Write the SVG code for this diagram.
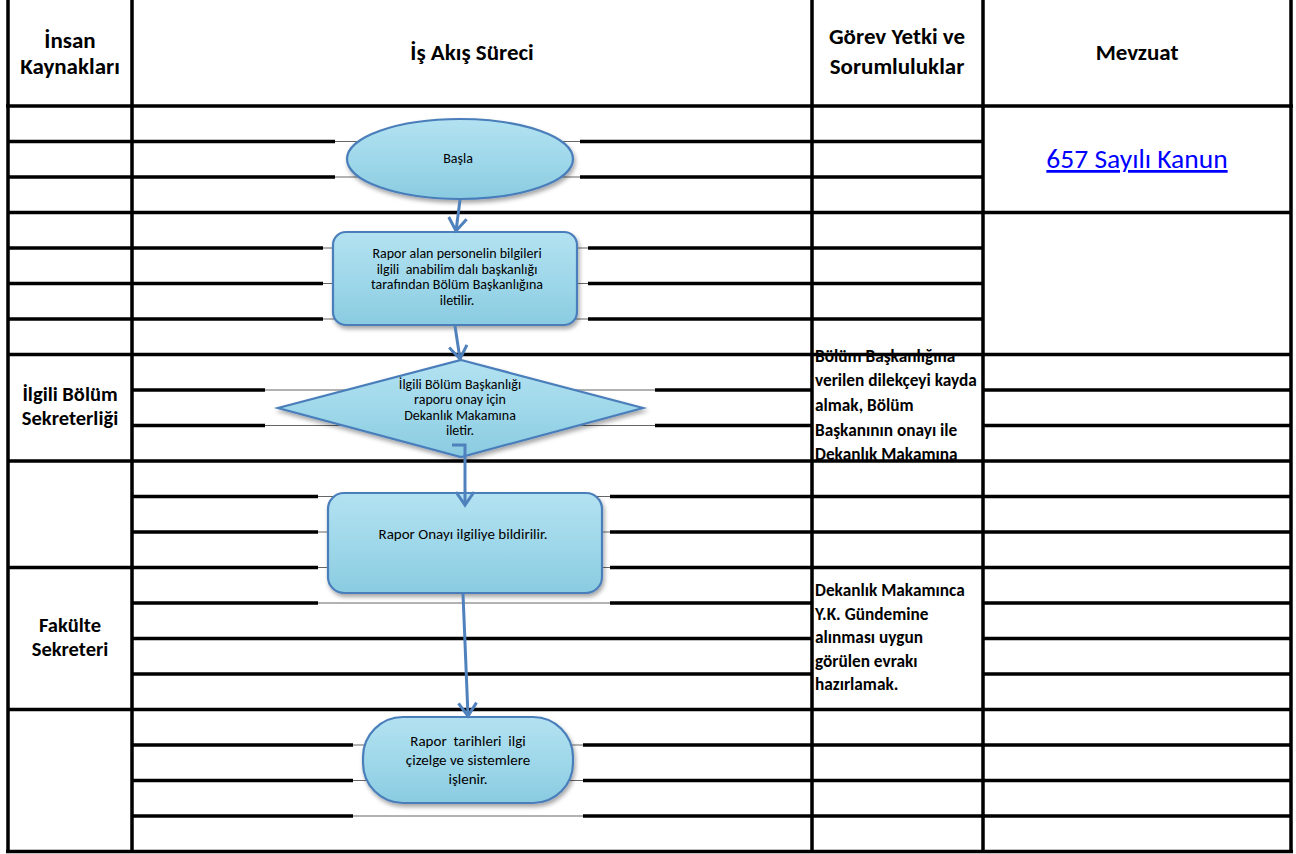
<svg xmlns="http://www.w3.org/2000/svg" width="1296" height="854" viewBox="0 0 1296 854">
<style>
.bg{fill:#ffffff}
.grid{stroke:#000;stroke-width:3.5;fill:none}
.thin{stroke:#666;stroke-width:1.2;fill:none}
.mask{fill:#fff}
.hdr{font-family:Carlito,Lato,"Liberation Sans",sans-serif;font-weight:bold;font-size:23px;fill:#000;text-anchor:middle}
.lane{font-family:Carlito,Lato,"Liberation Sans",sans-serif;font-weight:bold;font-size:20.5px;fill:#000;text-anchor:middle}
.duty{font-family:Carlito,Lato,"Liberation Sans",sans-serif;font-weight:bold;font-size:17.3px;fill:#000}
.nt{font-family:Carlito,Lato,"Liberation Sans",sans-serif;font-size:15px;fill:#000;text-anchor:middle;white-space:pre}
.ns{font-size:14px}
.law{font-family:Carlito,Lato,"Liberation Sans",sans-serif;font-size:27.5px;fill:#0000ff;text-anchor:middle;text-decoration:underline}
.shape{fill:url(#nodeFill);stroke:#4a7ebb;stroke-width:2.2;filter:url(#shadow)}
.conn{stroke:#4f81bd;stroke-width:3;fill:none;marker-end:url(#arrow)}
</style>
<defs>
<linearGradient id="nodeFill" x1="0" y1="0" x2="0" y2="1">
<stop offset="0" stop-color="#b3e2f1"/>
<stop offset="0.5" stop-color="#9fd8ea"/>
<stop offset="1" stop-color="#8acbe1"/>
</linearGradient>
<filter id="shadow" x="-10%" y="-10%" width="125%" height="135%">
<feDropShadow dx="1.5" dy="3" stdDeviation="2" flood-color="#000" flood-opacity="0.35"/>
</filter>
<marker id="arrow" markerUnits="userSpaceOnUse" markerWidth="18" markerHeight="22" viewBox="0 0 18 22" refX="15" refY="11" orient="auto">
<path d="M2,2 L15,11 L2,20" stroke="#4f81bd" stroke-width="3" fill="none" stroke-linejoin="miter"/>
</marker>
</defs>
<rect class="bg" x="0" y="0" width="1296" height="854"/>

<g id="duty-texts">
<text class="duty" x="815" y="361.5">Bölüm Başkanlığına</text>
<text class="duty" x="815" y="386">verilen dilekçeyi kayda</text>
<text class="duty" x="815" y="411">almak, Bölüm</text>
<text class="duty" x="815" y="436">Başkanının onayı ile</text>
<text class="duty" x="815" y="460">Dekanlık Makamına</text>
<text class="duty" x="815" y="596">Dekanlık Makamınca</text>
<text class="duty" x="815" y="619.5">Y.K. Gündemine</text>
<text class="duty" x="815" y="643">alınması uygun</text>
<text class="duty" x="815" y="666.5">görülen evrakı</text>
<text class="duty" x="815" y="690">hazırlamak.</text>
</g>

<g id="grid">
<path class="grid" d="M8,0V853 M132,0V853 M812,0V853 M983,0V853 M1291,0V853"/>
<path class="grid" d="M6,106H1293 M6,851.5H1293"/>
<path class="grid" d="M8,141.5H132 M8,177H132 M8,212.5H132 M8,248H132 M8,283.5H132 M8,319H132 M8,354.5H132 M8,461H132 M8,567.5H132 M8,709.5H132"/>
<path class="grid" d="M132,141.5H812 M132,177H812 M132,212.5H812 M132,248H812 M132,283.5H812 M132,319H812 M132,354.5H812 M132,390H812 M132,425.5H812 M132,461H812 M132,496.5H812 M132,532H812 M132,567.5H812 M132,603H812 M132,638.5H812 M132,674H812 M132,709.5H812 M132,745H812 M132,780.5H812 M132,816H812"/>
<path class="grid" d="M812,141.5H983 M812,177H983 M812,212.5H983 M812,248H983 M812,283.5H983 M812,319H983 M812,354.5H983 M812,461H983 M812,496.5H983 M812,532H983 M812,567.5H983 M812,709.5H983 M812,745H983 M812,780.5H983 M812,816H983"/>
<path class="grid" d="M983,212.5H1291 M983,354.5H1291 M983,390H1291 M983,425.5H1291 M983,461H1291 M983,496.5H1291 M983,532H1291 M983,567.5H1291 M983,603H1291 M983,638.5H1291 M983,674H1291 M983,709.5H1291 M983,745H1291 M983,780.5H1291 M983,816H1291"/>
</g>

<g id="headers">
<text class="hdr" x="70" y="48">İnsan</text>
<text class="hdr" x="70" y="74">Kaynakları</text>
<text class="hdr" x="472" y="60">İş Akış Süreci</text>
<text class="hdr" x="897" y="44">Görev Yetki ve</text>
<text class="hdr" x="897" y="74">Sorumluluklar</text>
<text class="hdr" x="1137" y="60">Mevzuat</text>
</g>

<g id="lane-labels">
<text class="lane" x="70" y="401">İlgili Bölüm</text>
<text class="lane" x="70" y="425">Sekreterliği</text>
<text class="lane" x="70" y="632">Fakülte</text>
<text class="lane" x="70" y="656">Sekreteri</text>
</g>

<g id="law">
<text class="law" x="1137" y="168">657 Sayılı Kanun</text>
</g>

<g id="start">
<rect class="mask" x="335" y="110" width="245" height="98"/>
<path class="thin" d="M335,141.5H580 M335,177H580"/>
<ellipse class="shape" cx="460" cy="159" rx="113" ry="40"/>
<text class="nt" x="458" y="163" style="font-size:14px">Başla</text>
</g>

<g id="step1">
<rect class="mask" x="323" y="216" width="265" height="110"/>
<path class="thin" d="M323,248H588 M323,283.5H588 M323,319H588"/>
<rect class="shape" x="333" y="232" width="244" height="93" rx="13"/>
<text class="nt ns" x="457" y="258">Rapor alan personelin bilgileri</text>
<text class="nt ns" x="457" y="273.5">ilgili  anabilim dalı başkanlığı</text>
<text class="nt ns" x="457" y="289">tarafından Bölüm Başkanlığına</text>
<text class="nt ns" x="457" y="304.5">iletilir.</text>
</g>

<g id="decision">
<rect class="mask" x="265" y="358" width="390" height="100"/>
<path class="thin" d="M265,390H655 M265,425.5H655"/>
<polygon class="shape" points="461,360 643,408 461,457 278,408"/>
<text class="nt ns" x="460" y="388.5">İlgili Bölüm Başkanlığı</text>
<text class="nt ns" x="460" y="404">raporu onay için</text>
<text class="nt ns" x="460" y="419.5">Dekanlık Makamına</text>
<text class="nt ns" x="460" y="435">iletir.</text>
</g>

<g id="step2">
<rect class="mask" x="318" y="465" width="292" height="141"/>
<path class="thin" d="M318,496.5H610 M318,532H610 M318,567.5H610 M318,603H610"/>
<rect class="shape" x="328" y="493" width="274" height="100" rx="16"/>
<text class="nt" x="463" y="539">Rapor Onayı ilgiliye bildirilir.</text>
</g>

<g id="end">
<rect class="mask" x="353" y="712" width="230" height="108"/>
<path class="thin" d="M353,745H583 M353,780.5H583 M353,816H583"/>
<rect class="shape" x="363" y="717" width="210" height="86" rx="40"/>
<text class="nt" x="468" y="745.5">Rapor  tarihleri  ilgi</text>
<text class="nt" x="468" y="765">çizelge ve sistemlere</text>
<text class="nt" x="468" y="784">işlenir.</text>
</g>

<g id="connectors">
<path class="conn" d="M460,200 L456,231"/>
<path class="conn" d="M455,326 L460,359"/>
<path class="conn" d="M452,445 L465,445 L465,505"/>
<path class="conn" d="M463,594 L468,716"/>
</g>
</svg>
